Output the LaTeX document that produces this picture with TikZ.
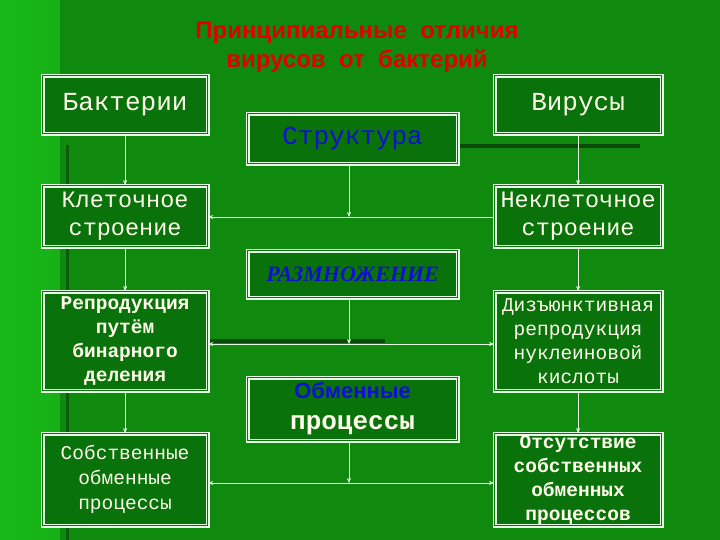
\documentclass[tikz,border=0pt]{standalone}
\usepackage{fontspec}
\setmainfont{Liberation Mono}
\newfontfamily\tsans{Liberation Sans}
\newfontfamily\tserif{Liberation Serif}
\usetikzlibrary{arrows.meta}
\definecolor{bg}{HTML}{0F8A0F}
\definecolor{bgl}{HTML}{18B818}
\definecolor{boxg}{HTML}{0A720A}
\definecolor{dk}{HTML}{0A4A0A}
\definecolor{ttl}{HTML}{E00000}
\definecolor{bl}{HTML}{1010D0}
\tikzset{
  bx/.style={draw=white!90!green, line width=1.2pt, double=boxg, double distance=1.5pt, fill=boxg, inner sep=0pt, anchor=north west, text=white!92!yellow, align=center},
  ar/.style={draw=white!90!green, line width=0.6pt, -{Stealth[length=5pt,width=4pt]}},
  br/.style={draw=white!90!green, line width=0.6pt, {Stealth[length=5pt,width=4pt]}-{Stealth[length=5pt,width=4pt]}}
}
\begin{document}
\begin{tikzpicture}[x=1pt,y=-1pt]
\useasboundingbox (0,0) rectangle (720,540);
\shade[left color=bgl, right color=bg, middle color=bg] (0,0) rectangle (720,540);
\fill[bg] (60,0) rectangle (720,540);
\fill[dk] (460,144) rectangle (640,148);
\fill[dk] (205,339) rectangle (385,343);
\fill[dk!70!bg] (66,145) rectangle (69,540);
\node[text=ttl, font=\tsans\bfseries\fontsize{24}{29}\selectfont, align=center] (t) at (357,47) {Принципиальные\ \ отличия\\вирусов\ \ от\ \ бактерий};
\node[bx, minimum width=165, minimum height=58, font=\fontsize{26}{28}\selectfont] (bak) at (42,75) {Бактерии};
\node[bx, minimum width=167, minimum height=58, font=\fontsize{26}{28}\selectfont] (vir) at (494,75) {Вирусы};
\node[bx, minimum width=210, minimum height=50, text=bl, font=\fontsize{26}{28}\selectfont] (str) at (247,113) {Структура};
\node[bx, minimum width=165, minimum height=61, font=\fontsize{23.5}{28}\selectfont] (kl) at (42,185) {Клеточное\\строение};
\node[bx, minimum width=167, minimum height=61, font=\fontsize{23.5}{28}\selectfont] (nkl) at (494,185) {Неклеточное\\строение};
\node[bx, minimum width=210, minimum height=47, text=bl, font=\tserif\bfseries\itshape\fontsize{22}{24}\selectfont] (raz) at (247,250) {РАЗМНОЖЕНИЕ};
\node[bx, minimum width=165, minimum height=99, font=\bfseries\fontsize{19.5}{24}\selectfont] (rep) at (42,291) {Репродукция\\путём\\бинарного\\деления};
\node[bx, minimum width=167, minimum height=99, font=\fontsize{19.5}{24}\selectfont] (diz) at (494,291) {Дизъюнктивная\\репродукция\\нуклеиновой\\кислоты};
\node[bx, minimum width=210, minimum height=63, font=\fontsize{26}{31}\selectfont] (obm) at (247,377) {{\color{bl}\tsans\bfseries\fontsize{22}{31}\selectfont Обменные}\\\bfseries процессы};
\node[bx, minimum width=165, minimum height=92, font=\fontsize{19.5}{25}\selectfont] (sob) at (42,433) {Собственные\\обменные\\процессы};
\node[bx, minimum width=167, minimum height=92, font=\bfseries\fontsize{19.5}{24}\selectfont] (ots) at (494,433) {Отсутствие\\собственных\\обменных\\процессов};
\coordinate (c1) at (349,217);
\coordinate (c2) at (349,344);
\coordinate (c3) at (349,483);
\draw[ar] (bak.south) -- (kl.north);
\draw[ar] (kl.south) -- (rep.north);
\draw[ar] (rep.south) -- (sob.north);
\draw[ar] (vir.south) -- (nkl.north);
\draw[ar] (nkl.south) -- (diz.north);
\draw[ar] (diz.south) -- (ots.north);
\draw[ar] (str.south -| c1) -- (c1);
\draw[ar] (raz.south -| c2) -- (c2);
\draw[ar] (obm.south -| c3) -- (c3);
\draw[ar] (nkl.west |- c1) -- (kl.east |- c1);
\draw[br] (rep.east |- c2) -- (diz.west |- c2);
\draw[br] (sob.east |- c3) -- (ots.west |- c3);
\end{tikzpicture}
\end{document}
